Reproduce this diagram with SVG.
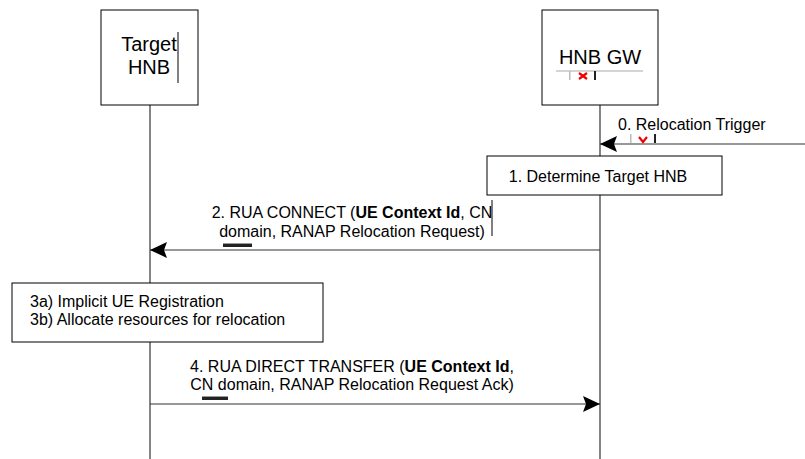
<svg xmlns="http://www.w3.org/2000/svg" width="805" height="459" viewBox="0 0 805 459">
<style>
text{font-family:"Liberation Sans",Arial,sans-serif;fill:#000}
.t16{font-size:16px}
.t20{font-size:20px}
.b{font-weight:bold}
.box{fill:#fff;stroke:#000;stroke-width:1}
.life{stroke:#333;stroke-width:1.2;fill:none}
.msg{stroke:#333;stroke-width:1.2;fill:none}
.bar{fill:#222}
</style>
<defs>
<marker id="ah" markerWidth="18" markerHeight="16" refX="17" refY="8" orient="auto" markerUnits="userSpaceOnUse">
<path d="M0,0 L17,8 L0,16 L3,8 Z" fill="#000"/>
</marker>
</defs>
<g id="lifelines">
<line class="life" x1="150" y1="105" x2="150" y2="459"/>
<line class="life" x1="600" y1="105" x2="600" y2="459"/>
</g>
<g id="node-target-hnb">
<rect class="box" x="101" y="10" width="97" height="95"/>
<text class="t20" x="149" y="51" text-anchor="middle">Target</text>
<text class="t20" x="149" y="74" text-anchor="middle">HNB</text>
<line x1="178" y1="32" x2="178" y2="83" stroke="#000" stroke-width="1"/>
</g>
<g id="node-hnb-gw">
<rect class="box" x="542" y="10" width="116" height="95"/>
<text class="t20" x="600" y="64" text-anchor="middle">HNB GW</text>
<line x1="556" y1="71" x2="643" y2="71" stroke="#aaa" stroke-width="1"/>
<rect x="569" y="71" width="1.5" height="9" fill="#bbb"/>
<rect x="594" y="71" width="2" height="9" fill="#222"/>
<path d="M579,73 L587,79 M587,73 L579,79" stroke="#e00" stroke-width="2.2"/>
</g>
<g id="node-determine">
<rect class="box" x="487" y="156" width="235" height="39"/>
<text class="t16" x="598" y="182" text-anchor="middle">1. Determine Target HNB</text>
</g>
<g id="node-register">
<rect class="box" x="12" y="283" width="311" height="59"/>
<text class="t16" x="30" y="307">3a) Implicit UE Registration</text>
<text class="t16" x="30" y="325">3b) Allocate resources for relocation</text>
</g>
<g id="connectors">
<line class="msg" x1="805" y1="144" x2="600" y2="144" marker-end="url(#ah)"/>
<text class="t16" x="618" y="130">0. Relocation Trigger</text>
<rect x="630" y="134" width="1.5" height="9" fill="#bbb"/>
<rect x="654" y="134" width="2" height="9" fill="#222"/>
<path d="M639,137 L643,142 L647,137" stroke="#e00" stroke-width="2.2" fill="none"/>

<line class="msg" x1="600" y1="250" x2="150" y2="250" marker-end="url(#ah)"/>
<text class="t16" x="352" y="218" text-anchor="middle">2. RUA CONNECT (<tspan class="b">UE Context Id</tspan>, CN</text>
<text class="t16" x="352" y="237" text-anchor="middle">domain, RANAP Relocation Request)</text>
<line x1="492" y1="200" x2="492" y2="236" stroke="#000" stroke-width="1"/>
<rect x="223" y="243" width="29" height="4" fill="#222"/>
<rect x="223" y="243" width="29" height="1" fill="#999"/>

<line class="msg" x1="150" y1="404" x2="600" y2="404" marker-end="url(#ah)"/>
<text class="t16" x="352" y="372" text-anchor="middle">4. RUA DIRECT TRANSFER (<tspan class="b">UE Context Id</tspan>,</text>
<text class="t16" x="352" y="390" text-anchor="middle">CN domain, RANAP Relocation Request Ack)</text>
<rect x="202" y="396" width="26" height="4" fill="#222"/>
<rect x="202" y="396" width="26" height="1" fill="#999"/>
</g>
</svg>
